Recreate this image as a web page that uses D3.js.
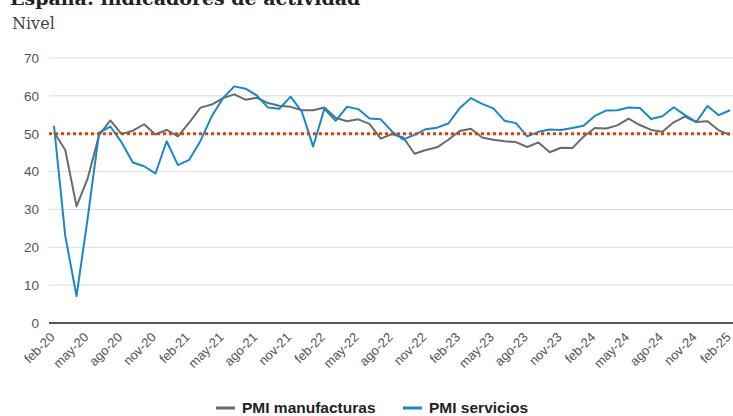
<!DOCTYPE html>
<html lang="es">
<head>
<meta charset="utf-8">
<script src="https://cdn.jsdelivr.net/npm/d3@7/dist/d3.min.js"></script>
<style>
  html, body { margin: 0; padding: 0; background: #fff; }
  svg { display: block; }
</style>
</head>
<body>
<div id="chart"></div>
<script>
// Monthly PMI readings for Spain, Feb 2020 – Feb 2025
const monthNames = ["ene","feb","mar","abr","may","jun","jul","ago","sep","oct","nov","dic"];
const months = [];
for (let y = 2020; y <= 2025; y++) {
  for (let m = 0; m < 12; m++) {
    if (y === 2020 && m < 1) continue;
    if (y === 2025 && m > 1) continue;
    months.push(monthNames[m] + "-" + String(y).slice(2));
  }
}

const manufacturas = [
  50.4, 45.7, 30.8, 38.3, 49.6, 53.5, 49.9, 50.8, 52.5, 49.8, 51.0,
  49.3, 52.9, 56.9, 57.7, 59.4, 60.4, 59.0, 59.5, 58.1, 57.4, 57.1, 56.2,
  56.2, 56.9, 54.2, 53.3, 53.8, 52.6, 48.7, 49.9, 49.0, 44.7, 45.7, 46.4,
  48.4, 50.7, 51.3, 49.0, 48.4, 48.0, 47.8, 46.5, 47.7, 45.1, 46.3, 46.2,
  49.2, 51.5, 51.4, 52.2, 54.0, 52.3, 51.0, 50.5, 53.0, 54.5, 53.1, 53.3,
  50.9, 49.7
];

const servicios = [
  52.1, 23.0, 7.1, 27.9, 50.3, 51.9, 47.7, 42.4, 41.4, 39.5, 48.0,
  41.7, 43.1, 48.1, 54.6, 59.4, 62.5, 61.9, 60.1, 56.9, 56.6, 59.8, 55.8,
  46.6, 56.6, 53.4, 57.1, 56.5, 54.0, 53.8, 50.6, 48.5, 49.7, 51.2, 51.6,
  52.7, 56.7, 59.4, 57.9, 56.7, 53.4, 52.8, 49.3, 50.5, 51.1, 51.0, 51.5,
  52.1, 54.7, 56.1, 56.2, 56.9, 56.8, 53.9, 54.6, 57.0, 54.9, 53.1, 57.3,
  54.9, 56.2
];

const yTicks = [0, 10, 20, 30, 40, 50, 60, 70];
const threshold = 50;
const tickLabels = months.filter((d, i) => i % 3 === 0);

const seriesNames = ["PMI manufacturas", "PMI servicios"];
const seriesColors = ["#6b6b6b", "#1689c6"];

const W = 733, H = 416;
const svg = d3.select("#chart").append("svg")
  .attr("width", W).attr("height", H);

// Title (sits above the visible frame)
svg.append("text")
  .attr("x", 10).attr("y", 5)
  .attr("font-family", "DejaVu Serif, serif")
  .attr("font-weight", "bold")
  .attr("font-size", 19)
  .attr("fill", "#222")
  .text("España: indicadores de actividad");

svg.append("text")
  .attr("x", 12).attr("y", 29)
  .attr("font-family", "DejaVu Serif, serif")
  .attr("font-size", 16)
  .attr("fill", "#444")
  .text("Nivel");

const x = d3.scalePoint().domain(months).range([54, 730]);
const y = d3.scaleLinear().domain([0, 70]).range([323, 58]);
const gridLeft = 49, gridRight = 733;

// Horizontal gridlines
svg.append("g").selectAll("line")
  .data(yTicks.filter(d => d > 0))
  .join("line")
  .attr("x1", gridLeft).attr("x2", gridRight)
  .attr("y1", d => y(d)).attr("y2", d => y(d))
  .attr("stroke", "#dcdcdc").attr("stroke-width", 1);

// Y axis labels
const yAxis = d3.axisLeft(y).tickValues(yTicks).tickSize(0).tickPadding(0);
const gy = svg.append("g").attr("transform", "translate(39,0)").call(yAxis);
gy.select(".domain").remove();
gy.selectAll("text")
  .attr("font-family", "Liberation Sans, Arial, sans-serif")
  .attr("font-size", 13.5)
  .attr("fill", "#555");

// X axis labels, rotated
const xAxis = d3.axisBottom(x).tickValues(tickLabels).tickSize(0).tickPadding(0);
const gx = svg.append("g").attr("transform", `translate(0,${y(0)})`).call(xAxis);
gx.select(".domain").remove();
gx.selectAll("text")
  .attr("font-family", "Liberation Sans, Arial, sans-serif")
  .attr("font-size", 13)
  .attr("fill", "#555")
  .attr("text-anchor", "end")
  .attr("dy", 0)
  .attr("transform", "translate(1,15) rotate(-45)");

// Baseline
svg.append("line")
  .attr("x1", gridLeft).attr("x2", gridRight)
  .attr("y1", y(0)).attr("y2", y(0))
  .attr("stroke", "#555").attr("stroke-width", 2);

// Series lines
const line = d3.line()
  .x((d, i) => x(months[i]))
  .y(d => y(d));

[manufacturas, servicios].forEach((vals, k) => {
  svg.append("path")
    .datum(vals)
    .attr("fill", "none")
    .attr("stroke", seriesColors[k])
    .attr("stroke-width", 2)
    .attr("stroke-linejoin", "round")
    .attr("d", line);
});

// 50-point threshold
svg.append("line")
  .attr("x1", gridLeft).attr("x2", gridRight)
  .attr("y1", y(threshold)).attr("y2", y(threshold))
  .attr("stroke", "#c9471f")
  .attr("stroke-width", 3)
  .attr("stroke-dasharray", "3,3");

// Legend
const legendX = [216, 403];
seriesNames.forEach((name, k) => {
  const g = svg.append("g").attr("transform", `translate(${legendX[k]},408)`);
  g.append("line")
    .attr("x1", 0).attr("x2", 19).attr("y1", 0).attr("y2", 0)
    .attr("stroke", seriesColors[k]).attr("stroke-width", 3);
  g.append("text")
    .attr("x", 26).attr("y", 5)
    .attr("font-family", "Liberation Sans, Arial, sans-serif")
    .attr("font-weight", "bold")
    .attr("font-size", 15.5)
    .attr("fill", "#222")
    .text(name);
});
</script>
</body>
</html>
